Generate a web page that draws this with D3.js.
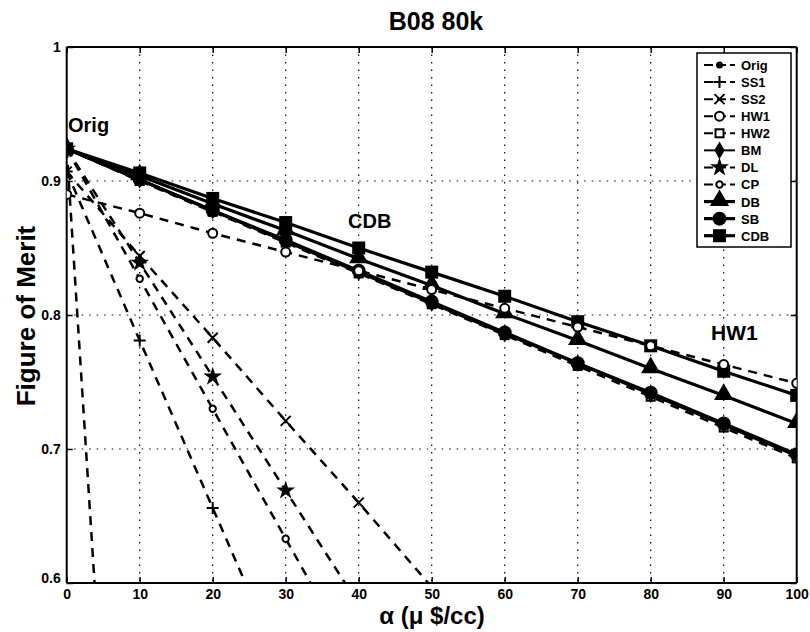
<!DOCTYPE html>
<html>
<head>
<meta charset="UTF-8">
<title>B08 80k</title>
<script src="https://d3js.org/d3.v7.min.js"></script>
<style>
body { margin: 0; background: #fff; }
svg text { font-family: "Liberation Sans", Arial, Helvetica, sans-serif; font-weight: bold; }
</style>
</head>

<body>

<figure class=chart style="margin:0"></figure>

<script type="text/javascript">

/* Data */
var seriesNames = ['Orig', 'SS1', 'SS2', 'HW1', 'HW2', 'BM', 'DL', 'CP', 'DB', 'SB', 'CDB'];
var xTicks = [0, 10, 20, 30, 40, 50, 60, 70, 80, 90, 100];
var yTicks = [0.6, 0.7, 0.8, 0.9, 1];

var alphaOrig = [0, 10];
var origVals = [0.924, 0.075];
var alphaSS1 = [0, 10, 20, 30];
var ss1Vals = [0.907, 0.781, 0.656, 0.531];
var alphaSS2 = [0, 10, 20, 30, 40, 50];
var ss2Vals = [0.907, 0.844, 0.783, 0.721, 0.660, 0.597];
var alphaDL = [0, 10, 20, 30, 40];
var dlVals = [0.924, 0.839, 0.754, 0.669, 0.584];
var alphaCP = [0, 10, 20, 30, 40];
var cpVals = [0.924, 0.827, 0.730, 0.633, 0.536];
var alphaAll = [0, 10, 20, 30, 40, 50, 60, 70, 80, 90, 100];
var hw1Vals = [0.890, 0.876, 0.861, 0.847, 0.833, 0.819, 0.805, 0.791, 0.777, 0.763, 0.749];
var hw2Vals = [0.924, 0.900, 0.877, 0.854, 0.831, 0.808, 0.785, 0.762, 0.739, 0.716, 0.693];
var bmVals  = [0.924, 0.901, 0.878, 0.855, 0.832, 0.809, 0.786, 0.764, 0.741, 0.718, 0.695];
var dbVals  = [0.924, 0.904, 0.883, 0.863, 0.842, 0.822, 0.801, 0.781, 0.760, 0.740, 0.719];
var sbVals  = [0.924, 0.901, 0.878, 0.856, 0.833, 0.810, 0.787, 0.764, 0.742, 0.719, 0.696];
var cdbVals = [0.924, 0.906, 0.887, 0.869, 0.850, 0.832, 0.814, 0.795, 0.777, 0.758, 0.740];

/* Global variables */
var W = 810, H = 632
var x = d3.scaleLinear().domain([0, 100]).range([66.7, 796.7])
var y = d3.scaleLinear().domain([0.6, 1]).range([583, 47])

// style of each series: marker, dashed or not, big marker or not
var styles = {
	Orig: { marker: 'dot', dash: true },
	SS1:  { marker: 'plus', dash: true },
	SS2:  { marker: 'x', dash: true },
	HW1:  { marker: 'circle', dash: true },
	HW2:  { marker: 'square', dash: true },
	BM:   { marker: 'diamond', dash: false },
	DL:   { marker: 'star', dash: true },
	CP:   { marker: 'smallcircle', dash: true },
	DB:   { marker: 'triangle', dash: false, big: true },
	SB:   { marker: 'bigdot', dash: false, big: true },
	CDB:  { marker: 'bigsquare', dash: false, big: true }
}

var series = [
	{ name: 'Orig', a: alphaOrig, v: origVals },
	{ name: 'SS1', a: alphaSS1, v: ss1Vals },
	{ name: 'SS2', a: alphaSS2, v: ss2Vals },
	{ name: 'DL', a: alphaDL, v: dlVals },
	{ name: 'CP', a: alphaCP, v: cpVals },
	{ name: 'HW2', a: alphaAll, v: hw2Vals },
	{ name: 'BM', a: alphaAll, v: bmVals },
	{ name: 'SB', a: alphaAll, v: sbVals },
	{ name: 'DB', a: alphaAll, v: dbVals },
	{ name: 'CDB', a: alphaAll, v: cdbVals },
	{ name: 'HW1', a: alphaAll, v: hw1Vals }
]

/* Functions */

function draw_marker(g, type, cx, cy) {
	if (type == 'plus') {
		g.append('path').attr('d', 'M' + (cx - 6) + ',' + cy + 'H' + (cx + 6) + 'M' + cx + ',' + (cy - 6) + 'V' + (cy + 6))
			.style('stroke', 'black').style('stroke-width', 2).style('fill', 'none')
	} else if (type == 'x') {
		g.append('path').attr('d', 'M' + (cx - 5) + ',' + (cy - 5) + 'L' + (cx + 5) + ',' + (cy + 5) + 'M' + (cx - 5) + ',' + (cy + 5) + 'L' + (cx + 5) + ',' + (cy - 5))
			.style('stroke', 'black').style('stroke-width', 2).style('fill', 'none')
	} else if (type == 'circle' || type == 'smallcircle') {
		g.append('circle').attr('cx', cx).attr('cy', cy).attr('r', type == 'circle' ? 4.5 : 3.2)
			.style('stroke', 'black').style('stroke-width', 2).style('fill', 'white')
	} else if (type == 'dot') {
		g.append('circle').attr('cx', cx).attr('cy', cy).attr('r', 3.5).style('fill', 'black')
	} else if (type == 'bigdot') {
		g.append('circle').attr('cx', cx).attr('cy', cy).attr('r', 7).style('fill', 'black')
	} else if (type == 'square') {
		g.append('rect').attr('x', cx - 4).attr('y', cy - 4).attr('width', 8).attr('height', 8)
			.style('stroke', 'black').style('stroke-width', 2).style('fill', 'white')
	} else if (type == 'bigsquare') {
		g.append('rect').attr('x', cx - 6.5).attr('y', cy - 6.5).attr('width', 13).attr('height', 13).style('fill', 'black')
	} else if (type == 'diamond') {
		g.append('path').attr('d', d3.symbol().type(d3.symbolDiamond).size(90)())
			.attr('transform', 'translate(' + cx + ',' + cy + ')').style('fill', 'black')
	} else if (type == 'triangle') {
		g.append('path').attr('d', d3.symbol().type(d3.symbolTriangle).size(160)())
			.attr('transform', 'translate(' + cx + ',' + (cy - 1) + ')').style('fill', 'black')
	} else if (type == 'star') {
		g.append('path').attr('d', d3.symbol().type(d3.symbolStar).size(110)())
			.attr('transform', 'translate(' + cx + ',' + cy + ')').style('fill', 'black')
	}
}

function draw_canvas() {
	var svg = d3.select('figure')
		.append('svg')
		.attr('width', W)
		.attr('height', H)

	svg.append('defs').append('clipPath').attr('id', 'plotclip')
		.append('rect')
		.attr('x', x(0)).attr('y', y(1))
		.attr('width', x(100) - x(0)).attr('height', y(0.6) - y(1))
	return svg
}

function draw_grid(svg) {
	var grid = svg.append('g')
	grid.selectAll('.vg').data(xTicks.slice(1, -1)).enter().append('line')
		.attr('x1', function(d) { return x(d); }).attr('x2', function(d) { return x(d); })
		.attr('y1', y(1)).attr('y2', y(0.6))
		.style('stroke', 'black').style('stroke-width', 1.2).style('stroke-dasharray', '1.5,6')
	grid.selectAll('.hg').data(yTicks.slice(1, -1)).enter().append('line')
		.attr('x1', x(0)).attr('x2', x(100))
		.attr('y1', function(d) { return y(d); }).attr('y2', function(d) { return y(d); })
		.style('stroke', 'black').style('stroke-width', 1.2).style('stroke-dasharray', '1.5,6')
}

function draw_axes(svg) {
	var fmt = function(d) { return d == 1 ? '1' : d3.format('.1f')(d); }
	var bottom = svg.append('g').attr('transform', 'translate(0,' + y(0.6) + ')')
		.call(d3.axisBottom(x).tickValues(xTicks).tickSize(-6).tickPadding(6))
	var left = svg.append('g').attr('transform', 'translate(' + x(0) + ',0)')
		.call(d3.axisLeft(y).tickValues(yTicks).tickFormat(fmt).tickSize(-6).tickPadding(6))
	var top = svg.append('g').attr('transform', 'translate(0,' + y(1) + ')')
		.call(d3.axisTop(x).tickValues(xTicks).tickFormat('').tickSize(-6))
	var right = svg.append('g').attr('transform', 'translate(' + x(100) + ',0)')
		.call(d3.axisRight(y).tickValues(yTicks).tickFormat('').tickSize(-6))

	;[bottom, left, top, right].forEach(function(ax) {
		ax.selectAll('.domain').style('stroke', 'black').style('stroke-width', 2)
		ax.selectAll('.tick line').style('stroke', 'black').style('stroke-width', 1.5)
		ax.selectAll('text').style('font-size', '14px').style('fill', 'black')
	})
	// outer box: drop the end caps of the domain paths
	bottom.select('.domain').attr('d', 'M' + x(0) + ',0H' + x(100))
	top.select('.domain').attr('d', 'M' + x(0) + ',0H' + x(100))
	left.select('.domain').attr('d', 'M0,' + y(0.6) + 'V' + y(1))
	right.select('.domain').attr('d', 'M0,' + y(0.6) + 'V' + y(1))
	left.selectAll('.tick').filter(function(d) { return d == 0.6; }).select('text').attr('dy', '-0.05em')

	svg.append('text').attr('x', 436).attr('y', 30).attr('text-anchor', 'middle')
		.style('font-size', '25px').text('B08 80k')
	svg.append('text').attr('x', 432).attr('y', 624).attr('text-anchor', 'middle')
		.style('font-size', '24px').text('\u03b1 (\u03bc $/cc)')
	svg.append('text').attr('transform', 'translate(35,316) rotate(-90)').attr('text-anchor', 'middle')
		.style('font-size', '26px').text('Figure of Merit')
}

function draw_series(svg) {
	var plot = svg.append('g').attr('clip-path', 'url(#plotclip)')
	var line = d3.line()
		.x(function(d) { return x(d[0]); })
		.y(function(d) { return y(d[1]); })

	series.forEach(function(s) {
		var st = styles[s.name]
		var pts = s.a.map(function(a, i) { return [a, s.v[i]]; })
		plot.append('path').datum(pts).attr('d', line)
			.style('fill', 'none').style('stroke', 'black')
			.style('stroke-width', st.dash ? 2.5 : 3.2)
			.style('stroke-dasharray', st.dash ? '9,7' : null)
		var mg = plot.append('g')
		// markers only for points inside the axes
		pts.filter(function(p) { return p[1] >= 0.6; })
			.forEach(function(p) { draw_marker(mg, st.marker, x(p[0]), y(p[1])); })
	})

	svg.append('text').attr('x', 68).attr('y', 132).style('font-size', '20px').text('Orig')
	svg.append('text').attr('x', 348).attr('y', 228).style('font-size', '20px').text('CDB')
	svg.append('text').attr('x', 711).attr('y', 340).style('font-size', '21px').text('HW1')
}

function draw_legend(svg) {
	var lg = svg.append('g')
	lg.append('rect').attr('x', 697).attr('y', 53).attr('width', 94).attr('height', 194)
		.style('fill', 'white').style('stroke', 'black').style('stroke-width', 1.5)
	seriesNames.forEach(function(name, i) {
		var st = styles[name]
		var cy = 65 + i * 17.07
		lg.append('line').attr('x1', 704).attr('x2', 735).attr('y1', cy).attr('y2', cy)
			.style('stroke', 'black').style('stroke-width', st.big ? 3.2 : 2)
			.style('stroke-dasharray', st.dash ? '9,4' : null)
		draw_marker(lg, st.marker, 719.5, cy)
		lg.append('text').attr('x', 741).attr('y', cy + 5).style('font-size', '13px').text(name)
	})
}

/* Main code */
var svg = draw_canvas()
draw_grid(svg)
draw_axes(svg)
draw_series(svg)
draw_legend(svg)

</script>

</body>

</html>
